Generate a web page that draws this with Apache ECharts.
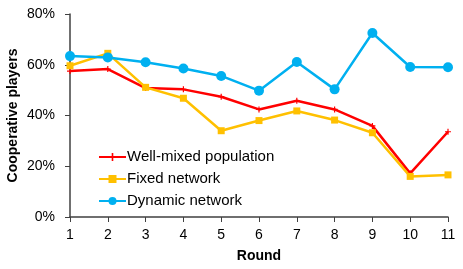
<!DOCTYPE html>
<html><head><meta charset="utf-8">
<script src="https://cdn.jsdelivr.net/npm/echarts@6/dist/echarts.min.js"></script>
<style>html,body{margin:0;padding:0;background:#fff}#c{width:463px;height:269px}</style>
</head><body><div id="c"></div>
<script>
const rounds = ['1','2','3','4','5','6','7','8','9','10','11'];
const wellMixed = [57.5, 58.3, 50.8, 50.3, 47.4, 42.4, 45.8, 42.4, 35.9, 17.2, 33.6];
const fixedNet = [59.6, 64.5, 51.1, 46.8, 34.0, 38.0, 41.8, 38.2, 33.2, 16.0, 16.6];
const dynamicNet = [63.4, 62.9, 61.0, 58.5, 55.6, 49.8, 61.1, 50.3, 72.5, 59.1, 59.0];
const seriesNames = ['Well-mixed population', 'Fixed network', 'Dynamic network'];

const chart = echarts.init(document.getElementById('c'), null, {renderer:'canvas'});
const font = 'Liberation Sans, Arial, sans-serif';
const axisColor = '#404040';
const plus = 'path://M2,0H3V2H5V3H3V5H2V3H0V2H2Z';
chart.setOption({
  animation:false,
  grid:{left:70, right:15, top:14, bottom:52, containLabel:false, outerBoundsMode:'none'},
  legend:{
    orient:'vertical', left:93, top:144.5, itemGap:7, itemWidth:27, itemHeight:10,
    textStyle:{fontFamily:font, fontSize:15, color:'#000', padding:[0,0,0,-4]},
    data:seriesNames
  },
  xAxis:{
    type:'category', data:rounds, boundaryGap:false,
    name:'Round', nameLocation:'middle', nameGap:32, nameMoveOverlap:false,
    nameTextStyle:{fontFamily:font, fontSize:14, fontWeight:'bold', color:'#000'},
    axisLine:{lineStyle:{color:axisColor, width:1.5}},
    axisTick:{show:true, alignWithLabel:true, length:5, lineStyle:{color:axisColor}},
    axisLabel:{fontFamily:font, fontSize:14, color:'#000', margin:11}
  },
  yAxis:{
    type:'value', min:0, max:80, interval:20,
    name:'Cooperative players', nameLocation:'middle', nameGap:50, nameMoveOverlap:false,
    nameTextStyle:{fontFamily:font, fontSize:14, fontWeight:'bold', color:'#000'},
    axisLine:{show:true, lineStyle:{color:axisColor, width:1.5}},
    axisTick:{show:true, length:5, lineStyle:{color:axisColor}},
    splitLine:{show:false},
    axisLabel:{fontFamily:font, fontSize:14, color:'#000', margin:15, formatter:'{value}%'}
  },
  series:[
    {name:seriesNames[0], type:'line', data:wellMixed, symbol:plus, symbolSize:6,
     lineStyle:{color:'#FF0000', width:2.5}, itemStyle:{color:'#FF0000'}},
    {name:seriesNames[1], type:'line', data:fixedNet, symbol:'rect', symbolSize:7,
     lineStyle:{color:'#FFC000', width:2.5}, itemStyle:{color:'#FFC000'}},
    {name:seriesNames[2], type:'line', data:dynamicNet, symbol:'circle', symbolSize:10,
     lineStyle:{color:'#00B0F0', width:2.5}, itemStyle:{color:'#00B0F0'}}
  ]
});
</script></body></html>
